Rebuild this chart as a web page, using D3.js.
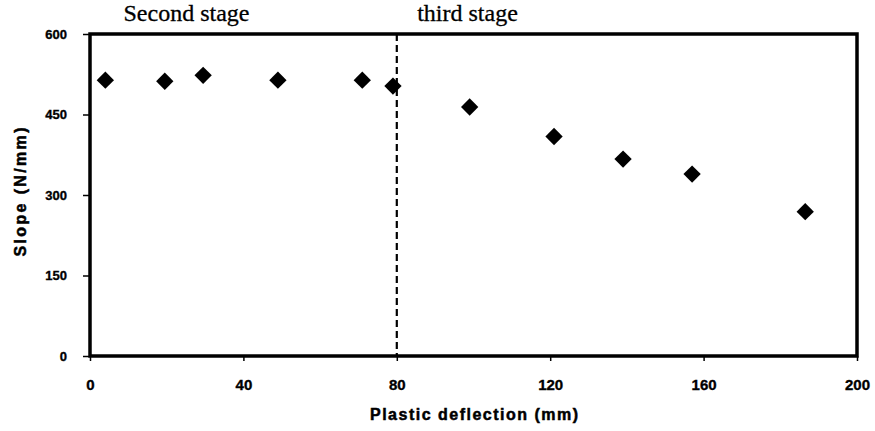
<!DOCTYPE html>
<html>
<head>
<meta charset="utf-8">
<script src="https://cdn.jsdelivr.net/npm/d3@7"></script>
<style>
  body { margin: 0; background: #fff; }
  .tick text { font-family: "Liberation Sans", Arial, sans-serif; font-weight: bold; fill: #000; stroke: #000; stroke-width: 0.35px; }
</style>
</head>
<body>
<div id="wrapper"></div>
<script>
// data
const deflection = [4, 19.5, 29.5, 49, 71, 79, 99, 121, 139, 157, 186.5];
const slope = [514, 512, 523, 514, 514, 503, 464, 409, 367, 339, 269];
const xTicks = [0, 40, 80, 120, 160, 200];
const yTicks = [0, 150, 300, 450, 600];
const stageBoundary = 80;
const stageLabels = ["Second stage", "third stage"];

const dimensions = {
  width: 875,
  height: 431,
  margin: { top: 34, right: 18, bottom: 75, left: 90 },
};
dimensions.boundedWidth = dimensions.width - dimensions.margin.left - dimensions.margin.right;
dimensions.boundedHeight = dimensions.height - dimensions.margin.top - dimensions.margin.bottom;

const svg = d3.select("#wrapper")
  .append("svg")
  .attr("width", dimensions.width)
  .attr("height", dimensions.height);

const bounds = svg.append("g")
  .attr("transform", `translate(${dimensions.margin.left},${dimensions.margin.top})`);

const xScale = d3.scaleLinear().domain([0, 200]).range([0, dimensions.boundedWidth]);
const yScale = d3.scaleLinear().domain([0, 600]).range([dimensions.boundedHeight, 0]);

// axes
const xAxis = bounds.append("g")
  .attr("transform", `translate(0,${dimensions.boundedHeight})`)
  .call(d3.axisBottom(xScale).tickValues(xTicks).tickSize(5).tickPadding(18));
xAxis.selectAll(".tick text").style("font-size", "15px");
const yAxis = bounds.append("g")
  .call(d3.axisLeft(yScale).tickValues(yTicks).tickSize(7).tickPadding(16));
yAxis.selectAll(".tick text").style("font-size", "13px");
[xAxis, yAxis].forEach(a => {
  a.select(".domain").remove();
  a.selectAll(".tick line").attr("stroke", "#000").attr("stroke-width", 1.5);
});

// frame
bounds.append("rect")
  .attr("x", 0).attr("y", 0)
  .attr("width", dimensions.boundedWidth)
  .attr("height", dimensions.boundedHeight)
  .attr("fill", "none")
  .attr("stroke", "#000")
  .attr("stroke-width", 3.5);

// stage divider
bounds.append("line")
  .attr("x1", xScale(stageBoundary)).attr("x2", xScale(stageBoundary))
  .attr("y1", 0).attr("y2", dimensions.boundedHeight)
  .attr("stroke", "#000")
  .attr("stroke-width", 2.2)
  .attr("stroke-dasharray", "7,4");

// points
const diamond = d3.symbol().type(d3.symbolSquare).size(150);
bounds.selectAll(".pt")
  .data(deflection)
  .join("path")
  .attr("class", "pt")
  .attr("d", diamond)
  .attr("transform", (d, i) => `translate(${xScale(d)},${yScale(slope[i])}) rotate(45)`)
  .attr("fill", "#000");

// stage labels
const serif = '"Liberation Serif", "Times New Roman", serif';
svg.append("text")
  .attr("x", 186.5).attr("y", 21)
  .attr("text-anchor", "middle")
  .style("font-family", serif).style("font-size", "24px")
  .style("stroke", "#000").style("stroke-width", "0.3px")
  .text(stageLabels[0]);
svg.append("text")
  .attr("x", 467.5).attr("y", 21)
  .attr("text-anchor", "middle")
  .style("font-family", serif).style("font-size", "24px")
  .style("stroke", "#000").style("stroke-width", "0.3px")
  .text(stageLabels[1]);

// axis titles
const sans = '"Liberation Sans", Arial, sans-serif';
svg.append("text")
  .attr("x", 474)
  .attr("y", 420)
  .attr("text-anchor", "middle")
  .attr("textLength", 208)
  .attr("lengthAdjust", "spacing")
  .style("font-family", sans).style("font-weight", "bold").style("font-size", "16px")
  .style("stroke", "#000").style("stroke-width", "0.5px")
  .text("Plastic deflection (mm)");
svg.append("text")
  .attr("transform", "translate(26,192) rotate(-90)")
  .attr("text-anchor", "middle")
  .attr("textLength", 129)
  .attr("lengthAdjust", "spacing")
  .style("font-family", sans).style("font-weight", "bold").style("font-size", "16px")
  .style("stroke", "#000").style("stroke-width", "0.5px")
  .text("Slope (N/mm)");
</script>
</body>
</html>
